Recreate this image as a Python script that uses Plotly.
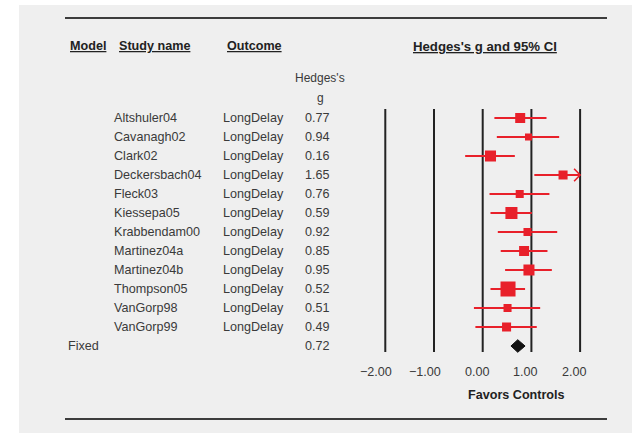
import plotly.graph_objects as go

# ---- data -------------------------------------------------------------
studies = ["Altshuler04", "Cavanagh02", "Clark02", "Deckersbach04", "Fleck03",
           "Kiessepa05", "Krabbendam00", "Martinez04a", "Martinez04b",
           "Thompson05", "VanGorp98", "VanGorp99"]
outcomes = ["LongDelay"] * len(studies)
hedges_g = [0.77, 0.94, 0.16, 1.65, 0.76, 0.59, 0.92, 0.85, 0.95, 0.52, 0.51, 0.49]
ci_lower = [0.24, 0.29, -0.36, 1.06, 0.14, 0.16, 0.31, 0.37, 0.46, 0.16, -0.18, -0.15]
ci_upper = [1.31, 1.57, 0.66, 2.24, 1.37, 1.01, 1.53, 1.33, 1.42, 0.87, 1.18, 1.11]
weights = [8.2, 4.0, 10.0, 6.7, 5.3, 11.9, 5.3, 8.2, 10.0, 18.5, 5.3, 6.7]  # relative weight, %

fixed_label = "Fixed"
fixed_g = 0.72
fixed_lower = 0.58
fixed_upper = 0.87

tick_values = [-2, -1, 0, 1, 2]
tick_labels = ["\u22122.00", "\u22121.00", "0.00", "1.00", "2.00"]

# ---- geometry ---------------------------------------------------------
W, H = 635, 433
ROW0_PX, ROW_H = 118.0, 19.0          # first row centre and row pitch (px)
X0_PX, UNIT_PX = 482.7, 48.7          # pixel of g = 0 and pixels per unit
XMIN, XMAX = -2.3, 2.3
CLIP = 2.0                            # whiskers beyond this get an arrow


def row_of(px):
    return (px - ROW0_PX) / ROW_H


def xp(px):
    return px / W


RED = "#e8202a"
TXT = "#3a3a3a"
FONT = "Liberation Sans, Arial, Helvetica, sans-serif"
FS = 12.6

fig = go.Figure()

# confidence-interval whiskers
lx, ly = [], []
for i, (lo, hi) in enumerate(zip(ci_lower, ci_upper)):
    lx += [max(lo, -CLIP), min(hi, CLIP), None]
    ly += [i, i, None]
fig.add_trace(go.Scatter(x=lx, y=ly, mode="lines",
                         line=dict(color=RED, width=2), hoverinfo="skip"))

# open arrowheads for truncated intervals
ax_, ay_ = [], []
for i, hi in enumerate(ci_upper):
    if hi > CLIP:
        d = 6 / UNIT_PX
        ax_ += [CLIP - d, CLIP, CLIP - d, None]
        ay_ += [i - 0.33, i, i + 0.33, None]
if ax_:
    fig.add_trace(go.Scatter(x=ax_, y=ay_, mode="lines",
                             line=dict(color=RED, width=1.6), hoverinfo="skip"))

# weighted point estimates
sizes = [3.49 * w ** 0.5 for w in weights]
fig.add_trace(go.Scatter(x=hedges_g, y=list(range(len(studies))), mode="markers",
                         marker=dict(symbol="square", size=sizes, color=RED,
                                     opacity=1, line=dict(width=0)),
                         hoverinfo="skip"))

# pooled (fixed-effect) diamond
fr = len(studies)
dh = 0.33
fig.add_trace(go.Scatter(x=[fixed_lower, fixed_g, fixed_upper, fixed_g, fixed_lower],
                         y=[fr, fr - dh, fr, fr + dh, fr],
                         mode="lines", fill="toself", fillcolor="#111111",
                         line=dict(color="#111111", width=1), hoverinfo="skip"))

shapes = []
# grey panel
shapes.append(dict(type="rect", xref="paper", yref="paper",
                   x0=xp(19), x1=xp(632), y0=0, y1=1 - 5 / H,
                   fillcolor="#efefef", line=dict(width=0), layer="below"))
# top / bottom rules
for py in (18, 419):
    shapes.append(dict(type="line", xref="paper", yref="y",
                       x0=xp(65), x1=xp(607), y0=row_of(py), y1=row_of(py),
                       line=dict(color="#3c3c3c", width=2)))
# vertical reference lines at each tick
for v in tick_values:
    shapes.append(dict(type="line", xref="x", yref="y", x0=v, x1=v,
                       y0=row_of(109), y1=row_of(352),
                       line=dict(color="#222222", width=2), layer="below"))

ann = []


def text(x, y, s, anchor="left", bold=False, yref="y", size=FS, color=TXT, xref="paper", xshift=0):
    ann.append(dict(x=x, y=y, xref=xref, yref=yref, text=(f"<b>{s}</b>" if bold else s),
                    showarrow=False, xanchor=anchor, yanchor="middle", xshift=xshift,
                    font=dict(family=FONT, size=size, color=color)))


# column headers
hy = row_of(46)
text(xp(68), hy, "<u>Model</u>", bold=True, color="#222222")
text(xp(117), hy, "<u>Study name</u>", bold=True, color="#222222")
text(xp(225), hy, "<u>Outcome</u>", bold=True, color="#222222")
text(xp(485), hy, "<u>Hedges's g and 95% CI</u>", anchor="center", bold=True,
     color="#222222", size=FS + 0.6)
text(xp(320), row_of(78), "Hedges's", anchor="center", size=FS - 0.6)
text(xp(320), row_of(98), "g", anchor="center", size=FS - 0.6)

# study rows
for i, (s, o, g) in enumerate(zip(studies, outcomes, hedges_g)):
    text(xp(112), i, s)
    text(xp(221), i, o)
    text(xp(332), i, f"{g:.2f}", anchor="right")
text(xp(66), fr, fixed_label)
text(xp(332), fr, f"{fixed_g:.2f}", anchor="right")

# axis labels
for v, lab in zip(tick_values, tick_labels):
    text(v, row_of(372), lab, anchor="right", xref="x", xshift=9)
text(xp(516), row_of(395), "Favors Controls", anchor="center", bold=True, color="#222222")

fig.update_layout(
    width=W, height=H, margin=dict(l=0, r=0, t=0, b=0),
    paper_bgcolor="white", plot_bgcolor="rgba(0,0,0,0)",
    showlegend=False, shapes=shapes, annotations=ann,
    xaxis=dict(range=[XMIN, XMAX], visible=False, fixedrange=True,
               domain=[xp(X0_PX + XMIN * UNIT_PX), xp(X0_PX + XMAX * UNIT_PX)]),
    yaxis=dict(range=[row_of(H), row_of(0)], visible=False, fixedrange=True,
               domain=[0, 1]),
)

fig.write_html("out.html")
